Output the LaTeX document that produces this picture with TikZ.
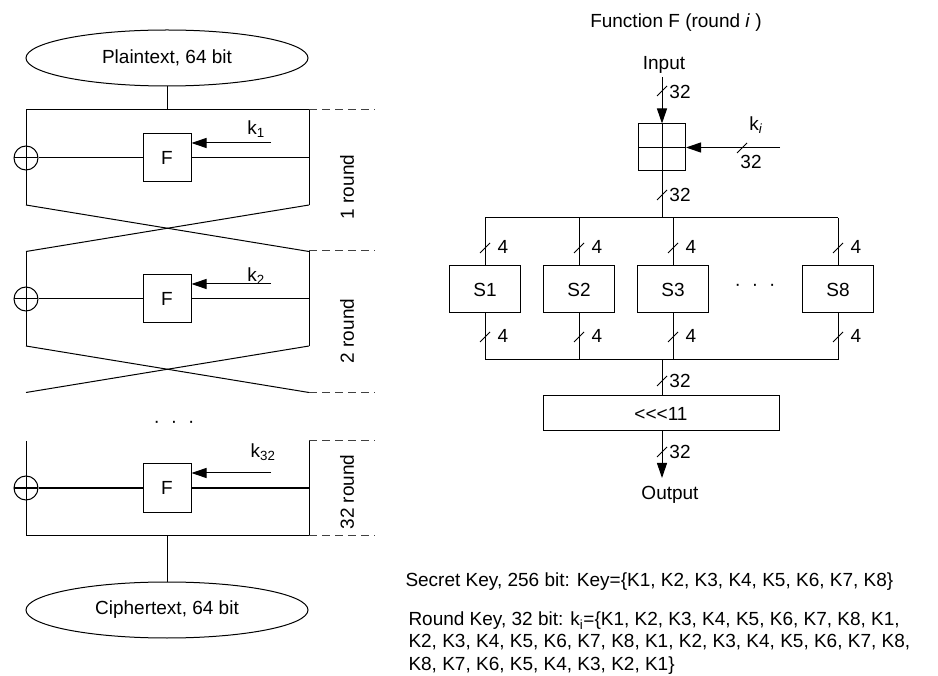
\documentclass[tikz,border=0pt]{standalone}
\usepackage{fontspec}
\setmainfont{Liberation Sans}
\usetikzlibrary{arrows.meta,shapes.geometric}
\begin{document}
\begin{tikzpicture}[x=1pt,y=-1pt,line width=1pt,
  every node/.style={font=\fontsize{19}{22.5}\selectfont},
  ell/.style={draw,ellipse,minimum width=282pt,minimum height=56pt,inner sep=0pt},
  fbox/.style={draw,minimum width=48pt,minimum height=48pt,inner sep=0pt},
  sbox/.style={draw,minimum width=71pt,minimum height=47pt,inner sep=0pt},
  addbox/.style={draw,minimum width=47pt,minimum height=47pt,inner sep=0pt,
    path picture={\draw[line width=1pt] (path picture bounding box.north) -- (path picture bounding box.south)
      (path picture bounding box.west) -- (path picture bounding box.east);}},
  xor/.style={draw,circle,minimum size=24pt,inner sep=0pt,
    path picture={\draw[line width=1pt] (path picture bounding box.north) -- (path picture bounding box.south)
      (path picture bounding box.west) -- (path picture bounding box.east);}},
  arr/.style={-{Triangle[length=15pt,width=10pt]}},
  dsh/.style={black!75,dash pattern=on 8pt off 5pt},
  lbl/.style={inner sep=0pt},
  bw/.pic={\draw[line width=0.8pt] (-5,5) -- (5,-5);}
]
\useasboundingbox (0,0) rectangle (938,676);

% ---------------- left: Feistel network ----------------
\node[ell] (pt) at (167,58) {Plaintext, 64 bit};
\node[ell] (ct) at (167,610) {Ciphertext, 64 bit};
\coordinate (top) at (167,110);
\draw (pt.south) -- (top);
\draw (26,110) -- (309,110);

\foreach \T/\M/\K/\n/\ly/\ry in {110/158/143/1/129/187, 251/299/284/2/276/331}{
  \draw[dsh] (309,\T) -- (375,\T);
  \draw (26,\T) -- (26,\T+95);
  \draw (309,\T) -- (309,\T+95);
  \node[xor] (x\n) at (26,\M) {};
  \node[fbox] (F\n) at (167,\M) {F};
  \draw (x\n.east) -- (F\n.west);
  \draw (F\n.east) -- (309,\M);
  \coordinate (ks\n) at (271,\K);
  \draw[arr] (ks\n) -- (ks\n -| F\n.east);
  \node[lbl] at (256,\ly) {k\textsubscript{\n}};
  \draw (26,\T+95) -- (309,\T+141.5);
  \draw (309,\T+95) -- (26,\T+141.5);
  \node[lbl,rotate=90] at (347,\ry) {\n\ round};
}
\draw[dsh] (309,392.5) -- (375,392.5);

\node[lbl] (dl) at (174,424) {·\hspace{11pt}·\hspace{11pt}·};

% round 32
\draw (26,441) -- (26,535) -- (309,535) -- (309,441);
\draw[dsh] (309,441) -- (375,441);
\draw[dsh] (309,535) -- (375,535);
\node[xor] (x32) at (26,488) {};
\node[fbox] (F32) at (167,488) {F};
\draw (x32.east) -- (F32.west);
\draw (F32.east) -- (309,488);
\coordinate (ks32) at (271,473);
\draw[arr] (ks32) -- (ks32 -| F32.east);
\node[lbl] at (263,452) {k\textsubscript{32}};
\node[lbl,rotate=90] at (347,492) {32 round};
\coordinate (bot) at (167,535);
\draw (bot) -- (ct.north);

% ---------------- right: function F ----------------
\node[lbl] (title) at (676,23) {Function F (round \textit{i} )};
\node[lbl] (inp) at (664,65) {Input};
\node[addbox] (add) at (662,147.5) {};
\coordinate (inc) at (662,77);
\draw[arr] (inc) -- (add.north);
\pic at (662,91) {bw};
\node[lbl] at (680,92) {32};
\coordinate (kic) at (780,147.5);
\draw[arr] (kic) -- (add.east);
\pic at (742,148) {bw};
\node[lbl] at (751,162) {32};
\node[lbl] at (756,125) {k\textsubscript{\textit{i}}};

\coordinate (b1) at (662,218);
\draw (add.south) -- (b1);
\pic at (662,195) {bw};
\node[lbl] at (680,195) {32};
\draw (485,218) -- (838,218);

\foreach \x/\s/\nm in {485/S1/s1, 579/S2/s2, 673/S3/s3, 838/S8/s8}{
  \node[sbox] (\nm) at (\x,289.5) {\s};
  \draw (\x,218) -- (\nm.north);
  \draw (\nm.south) -- (\x,360);
  \pic at (\x,248) {bw};
  \node[lbl] at (\x+18,247) {4};
  \pic at (\x,337) {bw};
  \node[lbl] at (\x+18,336) {4};
}
\node[lbl] (dr) at (755,287) {·\hspace{11pt}·\hspace{11pt}·};
\draw (485,360) -- (838,360);

\node[draw,minimum width=236pt,minimum height=35pt,inner sep=0pt] (rot) at (661,413.5) {<\kern0pt<\kern0pt<11};
\coordinate (b2) at (662,360);
\draw (b2) -- (b2 |- rot.north);
\pic at (662,381) {bw};
\node[lbl] at (680,381) {32};
\coordinate (outc) at (662,478);
\draw[arr] (rot.south -| outc) -- (outc);
\pic at (662,452) {bw};
\node[lbl] at (680,452) {32};
\node[lbl] (outp) at (670,495) {Output};

% ---------------- key text ----------------
\node[lbl,anchor=west] (sk) at (405,582) {Secret Key, 256 bit: Key=\{K1, K2, K3, K4, K5, K6, K7, K8\}};
\node[lbl,anchor=west,align=left] (rk) at (408,643) {Round Key, 32 bit: k\textsubscript{i}=\{K1, K2, K3, K4, K5, K6, K7, K8, K1,\\
K2, K3, K4, K5, K6, K7, K8, K1, K2, K3, K4, K5, K6, K7, K8,\\
K8, K7, K6, K5, K4, K3, K2, K1\}};
\end{tikzpicture}
\end{document}
